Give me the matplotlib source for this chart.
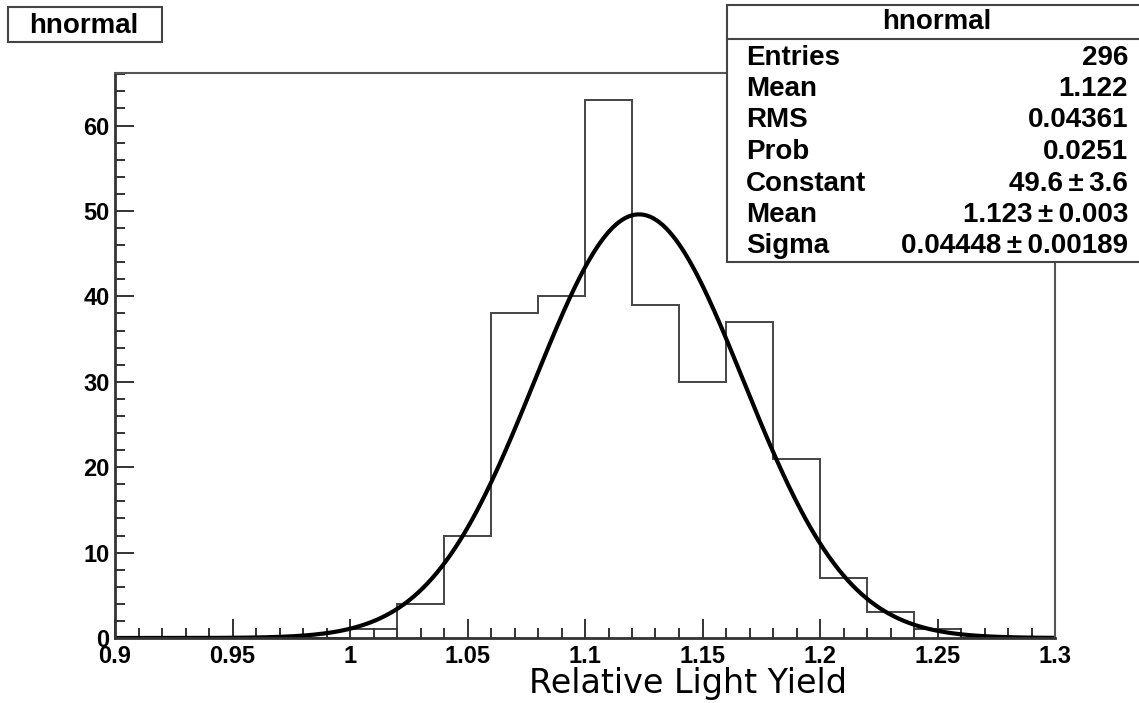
import numpy as np
import matplotlib
matplotlib.use("Agg")
import matplotlib.pyplot as plt
from matplotlib.patches import Rectangle
from matplotlib.ticker import MultipleLocator

# ---- data ----
bin_edges = [0.90, 0.92, 0.94, 0.96, 0.98, 1.00, 1.02, 1.04, 1.06, 1.08, 1.10,
             1.12, 1.14, 1.16, 1.18, 1.20, 1.22, 1.24, 1.26, 1.28, 1.30]
counts = [0, 0, 0, 0, 0, 1, 4, 12, 38, 40, 63, 39, 30, 37, 21, 7, 3, 1, 0, 0]
fit_constant = 49.6
fit_mean = 1.123
fit_sigma = 0.04448
stat_labels = ["Entries", "Mean", "RMS", "Prob", "Constant", "Mean", "Sigma"]
stat_values = ["296", "1.122", "0.04361", "0.0251", "49.6\u2009±\u20093.6",
               "1.123\u2009±\u20090.003", "0.04448\u2009±\u20090.00189"]
hist_name = "hnormal"
xlabel = "Relative Light Yield"
xtick_vals = [0.9, 0.95, 1.0, 1.05, 1.1, 1.15, 1.2, 1.25, 1.3]
xtick_labels = ["0.9", "0.95", "1", "1.05", "1.1", "1.15", "1.2", "1.25", "1.3"]

W, H = 1139, 703
fig = plt.figure(figsize=(W / 100, H / 100), dpi=100)
fig.patch.set_facecolor("white")

def fx(px):
    return px / W

def fy(py):
    return 1 - py / H

L, R, T, B = 115, 1055, 73, 638
ax = fig.add_axes([fx(L), fy(B), (R - L) / W, (B - T) / H])

bold = dict(family="Liberation Sans", weight="bold")

ax.stairs(counts, bin_edges, color="#444444", linewidth=1.4)
xs = np.linspace(bin_edges[0], bin_edges[-1], 600)
ax.plot(xs, fit_constant * np.exp(-0.5 * ((xs - fit_mean) / fit_sigma) ** 2),
        color="black", linewidth=3.0)

ax.set_xlim(0.9, 1.3)
ax.set_ylim(0, 66.15)
ax.xaxis.set_major_locator(MultipleLocator(0.05))
ax.xaxis.set_minor_locator(MultipleLocator(0.01))
ax.yaxis.set_major_locator(MultipleLocator(10))
ax.yaxis.set_minor_locator(MultipleLocator(2))
ax.tick_params(which="both", direction="in", top=False, right=False,
               color="#333333", width=1.4)
ax.tick_params(which="major", length=14)
ax.tick_params(which="minor", length=7)
ax.tick_params(axis="x", pad=5)
ax.tick_params(axis="y", pad=4)
ax.set_xticks(xtick_vals)
ax.set_xticklabels(xtick_labels)
for lab in ax.get_xticklabels() + ax.get_yticklabels():
    lab.set_fontfamily("Liberation Sans")
    lab.set_fontweight("bold")
    lab.set_fontsize(17)
for s in ["left", "bottom"]:
    ax.spines[s].set_linewidth(2.0)
    ax.spines[s].set_color("#333333")
for s in ["top", "right"]:
    ax.spines[s].set_linewidth(1.5)
    ax.spines[s].set_color("#555555")

fig.text(fx(688), fy(683), xlabel, ha="center", va="center",
         family="DejaVu Sans", fontsize=24)

# title box
fig.patches.append(Rectangle((fx(8), fy(42)), (162 - 8) / W, (42 - 7) / H,
                             transform=fig.transFigure, facecolor="white",
                             edgecolor="#444444", linewidth=1.5))
fig.text(fx(84), fy(26), hist_name, ha="center", va="center", fontsize=20, **bold)

# stats box
bx0, by0, bx1, by1 = 727, 5, 1150, 262
fig.patches.append(Rectangle((fx(bx0), fy(by1)), (bx1 - bx0) / W, (by1 - by0) / H,
                             transform=fig.transFigure, facecolor="white",
                             edgecolor="#444444", linewidth=1.5, zorder=5))
fig.add_artist(plt.Line2D([fx(bx0), fx(bx1)], [fy(39), fy(39)],
                          transform=fig.transFigure, color="#444444", linewidth=1.5, zorder=6))
fig.text(fx(937), fy(22), hist_name, ha="center", va="center", fontsize=20,
         zorder=7, **bold)
row_y = [58, 89, 120, 152, 184, 215, 246]
for lab, val, yy in zip(stat_labels, stat_values, row_y):
    fig.text(fx(746), fy(yy), lab, ha="left", va="center", fontsize=20, zorder=7, **bold)
    fig.text(fx(1128), fy(yy), val, ha="right", va="center", fontsize=20, zorder=7, **bold)

fig.savefig("out.png", dpi=100, facecolor="white")
